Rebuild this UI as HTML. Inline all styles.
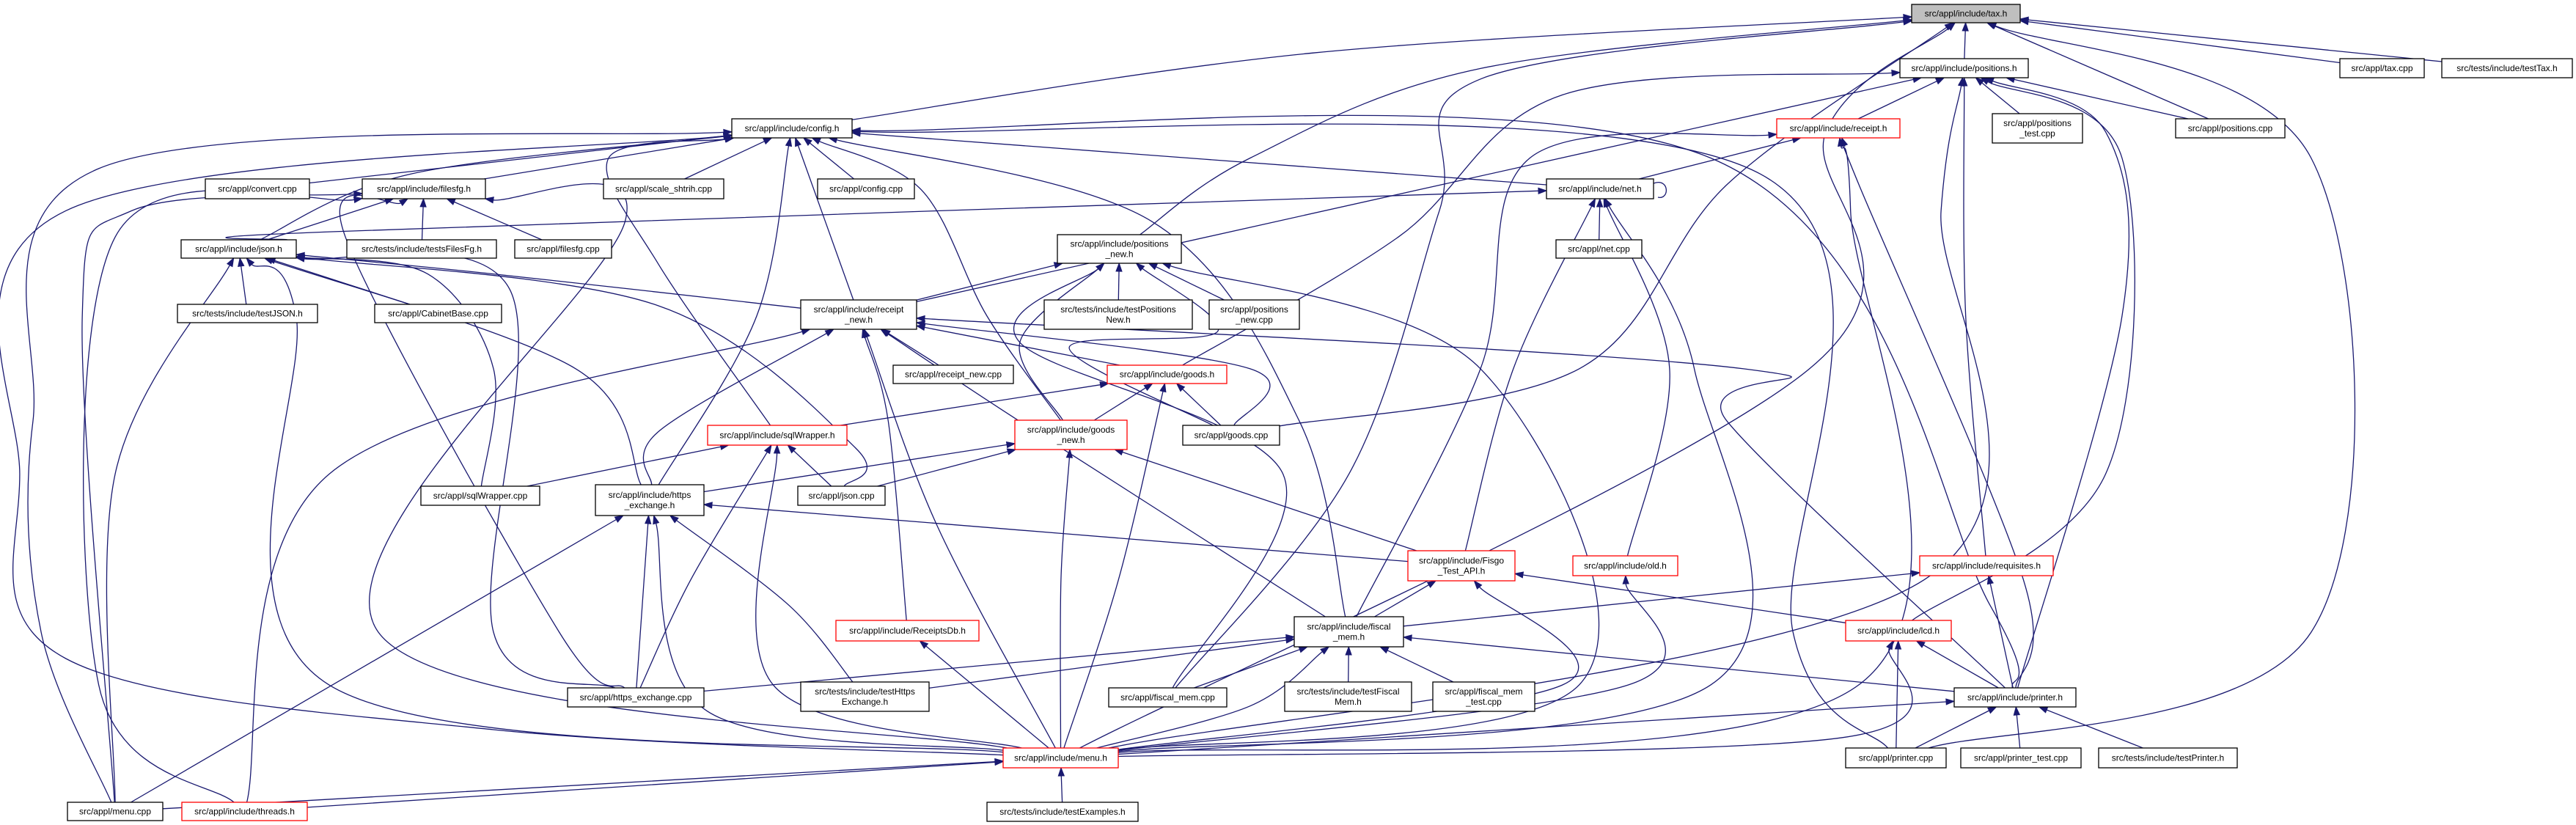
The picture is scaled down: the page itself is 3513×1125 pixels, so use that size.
<!DOCTYPE html>
<html><head><meta charset="utf-8"><style>
html,body{margin:0;padding:0;background:#fff;}
svg{display:block;}
text{font-family:"Liberation Sans",sans-serif;font-size:12px;fill:#000;}
</style></head><body>
<svg id="g" width="3513" height="1125" viewBox="0 0 3513 1125" xmlns="http://www.w3.org/2000/svg">
<g id="edges"></g>
<g id="nodes"></g>
</svg>
<script>
const nodeIds = ["tax_h","positions_h","tax_cpp","testTax_h","positions_test_cpp","positions_cpp","receipt_h","config_h","convert_cpp","filesfg_h","scale_cpp","config_cpp","net_h","json_h","testsFilesFg_h","filesfg_cpp","positions_new_h","net_cpp","testJSON_h","CabinetBase_cpp","receipt_new_h","testPositionsNew_h","positions_new_cpp","receipt_new_cpp","goods_h","sqlWrapper_h","goods_new_h","goods_cpp","sqlWrapper_cpp","https_exchange_h","json_cpp","FisgoTest_API_h","old_h","requisites_h","ReceiptsDb_h","fiscal_mem_h","lcd_h","https_exchange_cpp","testHttpsExchange_h","fiscal_mem_cpp","testFiscalMem_h","fiscal_mem_test_cpp","printer_h","menu_h","printer_cpp","printer_test_cpp","testPrinter_h","menu_cpp","threads_h","testExamples_h"];
const nodeBoxes = [
[2607,6,2755,31],[2591,80,2766,106],[3191,80,3306,106],[3330,80,3508,106],[2717,155,2840,195],[2967,162,3116,188],[2423,162,2591,188],[998,162,1162,188],[280,244,422,271],[494,244,662,271],[823,244,987,271],[1115,244,1247,271],[2109,244,2255,271],[247,327,404,352],[473,327,677,352],[702,327,834,352],[1442,320,1611,359],[2122,327,2239,352],[242,415,433,440],[511,415,684,440],[1092,409,1250,449],[1424,409,1626,449],[1649,409,1772,449],[1218,498,1382,523],[1510,498,1673,523],[965,580,1155,607],[1384,573,1537,613],[1613,580,1745,607],[574,663,736,689],[812,661,960,703],[1088,663,1207,689],[1920,751,2066,792],[2145,758,2288,785],[2618,758,2800,785],[1140,846,1335,874],[1765,841,1914,882],[2517,846,2661,874],[774,938,960,964],[1092,930,1267,970],[1512,938,1673,964],[1752,930,1925,970],[1954,930,2093,970],[2665,938,2831,964],[1368,1020,1525,1047],[2517,1020,2654,1047],[2674,1020,2838,1047],[2862,1020,3051,1047],[92,1094,222,1119],[248,1094,419,1119],[1346,1094,1552,1120]];
const nodeLabels = [
["src/appl/include/tax.h"],["src/appl/include/positions.h"],["src/appl/tax.cpp"],["src/tests/include/testTax.h"],["src/appl/positions","_test.cpp"],["src/appl/positions.cpp"],["src/appl/include/receipt.h"],["src/appl/include/config.h"],["src/appl/convert.cpp"],["src/appl/include/filesfg.h"],["src/appl/scale_shtrih.cpp"],["src/appl/config.cpp"],["src/appl/include/net.h"],["src/appl/include/json.h"],["src/tests/include/testsFilesFg.h"],["src/appl/filesfg.cpp"],["src/appl/include/positions","_new.h"],["src/appl/net.cpp"],["src/tests/include/testJSON.h"],["src/appl/CabinetBase.cpp"],["src/appl/include/receipt","_new.h"],["src/tests/include/testPositions","New.h"],["src/appl/positions","_new.cpp"],["src/appl/receipt_new.cpp"],["src/appl/include/goods.h"],["src/appl/include/sqlWrapper.h"],["src/appl/include/goods","_new.h"],["src/appl/goods.cpp"],["src/appl/sqlWrapper.cpp"],["src/appl/include/https","_exchange.h"],["src/appl/json.cpp"],["src/appl/include/Fisgo","_Test_API.h"],["src/appl/include/old.h"],["src/appl/include/requisites.h"],["src/appl/include/ReceiptsDb.h"],["src/appl/include/fiscal","_mem.h"],["src/appl/include/lcd.h"],["src/appl/https_exchange.cpp"],["src/tests/include/testHttps","Exchange.h"],["src/appl/fiscal_mem.cpp"],["src/tests/include/testFiscal","Mem.h"],["src/appl/fiscal_mem","_test.cpp"],["src/appl/include/printer.h"],["src/appl/include/menu.h"],["src/appl/printer.cpp"],["src/appl/printer_test.cpp"],["src/tests/include/testPrinter.h"],["src/appl/menu.cpp"],["src/appl/include/threads.h"],["src/tests/include/testExamples.h"]];
const nodeKinds = [2,0,0,0,0,0,1,0,0,0,0,0,0,0,0,0,0,0,0,0,0,0,0,0,1,1,1,0,0,0,0,1,1,1,1,0,1,0,0,0,0,0,0,1,0,0,0,0,1,0];
const edgeList = [
["positions_h","tax_h",[]],["tax_cpp","tax_h",[]],["testTax_h","tax_h",[]],["positions_cpp","tax_h",[]],
["config_h","tax_h",[[800,100]]],["positions_new_h","tax_h",[[760,300],[900,130]]],
["fiscal_mem_cpp","tax_h",[[820,900],[875,400],[900,150]]],["goods_cpp","tax_h",[[960,700],[1050,350]]],
["menu_h","tax_h",[[1100,700],[1110,250]]],["printer_cpp","tax_h",[[1405,1200],[1405,300]]],
["receipt_h","positions_h",[]],["positions_test_cpp","positions_h",[]],["positions_cpp","positions_h",[]],
["requisites_h","positions_h",[[1195,600]]],["printer_h","positions_h",[[1290,600],[1280,250]]],
["lcd_h","positions_h",[[1280,900],[1290,300]]],["menu_h","positions_h",[[1170,1100],[1180,400]]],
["receipt_new_h","positions_h",[]],["goods_h","positions_h",[[850,450],[950,180]]],
["convert_cpp","config_h",[]],["filesfg_h","config_h",[]],["scale_cpp","config_h",[]],["config_cpp","config_h",[]],
["json_h","config_h",[[250,330]]],["net_h","config_h",[]],["receipt_new_h","config_h",[]],
["https_exchange_h","config_h",[[460,600]]],["sqlWrapper_h","config_h",[[400,500],[370,300]]],
["menu_cpp","config_h",[[25,1200],[20,800],[60,320]]],["menu_h","config_h",[[300,1385],[40,1250],[12,900],[40,400]]],
["fiscal_mem_h","config_h",[[790,800],[700,420]]],["printer_cpp","config_h",[[1090,1200],[1070,330]]],
["printer_h","config_h",[[1210,1150],[1040,300]]],["goods_new_h","config_h",[[600,600],[560,360]]],
["net_h","receipt_h",[]],["fiscal_mem_h","receipt_h",[[900,700],[930,300]]],
["menu_h","receipt_h",[[1130,1300],[1125,400]]],["printer_h","receipt_h",[[1230,1100],[1130,350]]],
["json_h","net_h",[[200,440]]],["net_cpp","net_h",[]],["FisgoTest_API_h","net_h",[[920,700]]],
["old_h","net_h",[[1015,700]]],["menu_h","net_h",[[1040,1300],[1030,700]]],
["json_h","filesfg_h",[]],["testsFilesFg_h","filesfg_h",[]],["filesfg_cpp","filesfg_h",[]],
["menu_cpp","filesfg_h",[[50,600],[80,400]]],["threads_h","filesfg_h",[[60,1300],[70,450]]],
["https_exchange_cpp","filesfg_h",[[340,1200],[210,450]]],["menu_h","filesfg_h",[[230,1200],[380,420]]],
["testJSON_h","json_h",[]],["CabinetBase_cpp","json_h",[]],["receipt_new_h","json_h",[[300,520]]],
["menu_cpp","json_h",[[70,900]]],["menu_h","json_h",[[200,1300],[180,600]]],
["https_exchange_h","json_h",[[350,700]]],["https_exchange_cpp","json_h",[[300,1200],[310,550]]],
["json_cpp","json_h",[[520,850],[400,580]]],["sqlWrapper_cpp","json_h",[[300,700],[260,520]]],
["receipt_new_h","positions_new_h",[]],["testPositionsNew_h","positions_new_h",[]],["positions_new_cpp","positions_new_h",[]],
["goods_new_h","positions_new_h",[[620,650]]],["goods_cpp","positions_new_h",[[650,660],[740,630]]],
["fiscal_mem_cpp","positions_new_h",[[780,900],[620,650]]],["menu_h","positions_new_h",[[960,1300],[900,700]]],
["receipt_new_cpp","receipt_new_h",[]],["goods_h","receipt_new_h",[]],["https_exchange_h","receipt_new_h",[[400,820]]],
["ReceiptsDb_h","receipt_new_h",[[540,800]]],["menu_h","receipt_new_h",[[570,1000]]],
["threads_h","receipt_new_h",[[200,900]]],["fiscal_mem_h","receipt_new_h",[[620,800]]],
["printer_h","receipt_new_h",[[1050,800],[1060,700]]],["goods_cpp","receipt_new_h",[[760,700]]],
["sqlWrapper_h","goods_h",[]],["goods_new_h","goods_h",[]],["goods_cpp","goods_h",[]],["menu_h","goods_h",[[680,1100]]],
["sqlWrapper_cpp","sqlWrapper_h",[]],["json_cpp","sqlWrapper_h",[]],["https_exchange_cpp","sqlWrapper_h",[[420,1100]]],
["menu_h","sqlWrapper_h",[[470,1300]]],
["https_exchange_h","goods_new_h",[]],["json_cpp","goods_new_h",[]],["FisgoTest_API_h","goods_new_h",[]],
["menu_h","goods_new_h",[[645,1100]]],
["FisgoTest_API_h","https_exchange_h",[]],["https_exchange_cpp","https_exchange_h",[]],
["testHttpsExchange_h","https_exchange_h",[[480,1150]]],["menu_h","https_exchange_h",[[430,1350]]],
["menu_cpp","https_exchange_h",[]],
["fiscal_mem_h","FisgoTest_API_h",[]],["lcd_h","FisgoTest_API_h",[]],["menu_h","FisgoTest_API_h",[[950,1300]]],
["menu_h","old_h",[[990,1300]]],["fiscal_mem_h","requisites_h",[]],["printer_h","requisites_h",[]],
["menu_h","ReceiptsDb_h",[]],
["https_exchange_cpp","fiscal_mem_h",[]],["testHttpsExchange_h","fiscal_mem_h",[]],["fiscal_mem_cpp","fiscal_mem_h",[]],
["testFiscalMem_h","fiscal_mem_h",[]],["fiscal_mem_test_cpp","fiscal_mem_h",[]],["menu_h","fiscal_mem_h",[[760,1340]]],
["printer_h","fiscal_mem_h",[]],
["printer_h","lcd_h",[]],["printer_cpp","lcd_h",[]],["menu_h","lcd_h",[[1120,1400]]],
["printer_cpp","printer_h",[]],["printer_test_cpp","printer_h",[]],["testPrinter_h","printer_h",[]],["menu_h","printer_h",[]],
["menu_cpp","menu_h",[]],["threads_h","menu_h",[]],["testExamples_h","menu_h",[]]
];
const NS="http://www.w3.org/2000/svg";
const SX=2.2433, SY=0.7184;
const eg=document.getElementById('edges'), ng=document.getElementById('nodes');
function box(id){return nodeBoxes[nodeIds.indexOf(id)];}
function clip(b,px,py){
  const cx=(b[0]+b[2])/2, cy=(b[1]+b[3])/2, dx=px-cx, dy=py-cy;
  const hw=(b[2]-b[0])/2, hh=(b[3]-b[1])/2;
  const t=Math.min(dx?hw/Math.abs(dx):1e9, dy?hh/Math.abs(dy):1e9);
  return [cx+dx*t, cy+dy*t];
}
edgeList.forEach(e=>{
  const cb=box(e[0]), pb=box(e[1]);
  const via=e[2].map(p=>[p[0]*SX,p[1]*SY]);
  const cc=[(cb[0]+cb[2])/2,(cb[1]+cb[3])/2], pc=[(pb[0]+pb[2])/2,(pb[1]+pb[3])/2];
  const first=via.length?via[0]:pc, last=via.length?via[via.length-1]:cc;
  const s=clip(cb,first[0],first[1]), tip=clip(pb,last[0],last[1]);
  const prev=via.length?via[via.length-1]:s;
  let dx=tip[0]-prev[0], dy=tip[1]-prev[1]; const L=Math.hypot(dx,dy)||1; dx/=L; dy/=L;
  const base=[tip[0]-dx*11, tip[1]-dy*11];
  const pts=[s,...via,base];
  let d='M'+pts[0][0].toFixed(1)+','+pts[0][1].toFixed(1);
  for(let i=0;i<pts.length-1;i++){
    const p0=pts[i-1]||pts[i], p1=pts[i], p2=pts[i+1], p3=pts[i+2]||p2;
    const c1=[p1[0]+(p2[0]-p0[0])/6, p1[1]+(p2[1]-p0[1])/6];
    const c2=[p2[0]-(p3[0]-p1[0])/6, p2[1]-(p3[1]-p1[1])/6];
    d+=' C'+c1.map(v=>v.toFixed(1)).join(',')+' '+c2.map(v=>v.toFixed(1)).join(',')+' '+p2.map(v=>v.toFixed(1)).join(',');
  }
  const path=document.createElementNS(NS,'path');
  path.setAttribute('d',d);path.setAttribute('fill','none');path.setAttribute('stroke','#191970');path.setAttribute('stroke-width','1.3');
  
  
  eg.appendChild(path);
  const a=document.createElementNS(NS,'polygon');
  const nx=-dy, ny=dx;
  a.setAttribute('points',[tip,[base[0]+nx*4,base[1]+ny*4],[base[0]-nx*4,base[1]-ny*4]].map(p=>p[0].toFixed(1)+','+p[1].toFixed(1)).join(' '));
  a.setAttribute('fill','#191970');a.setAttribute('stroke','#191970');
  
  
  eg.appendChild(a);
});
(function(){const b=box('net_h');const p=document.createElementNS(NS,'path');
p.setAttribute('d','M'+b[2]+','+(b[1]+6)+' C'+(b[2]+22)+','+(b[1]-2)+' '+(b[2]+22)+','+(b[3]+2)+' '+(b[2]+6)+','+(b[3]-2));
p.setAttribute('fill','none');p.setAttribute('stroke','#191970');p.setAttribute('stroke-width','1.3');


eg.appendChild(p);})();
nodeIds.forEach((id,i)=>{
  const b=nodeBoxes[i], g=document.createElementNS(NS,'g');
  
  
  const r=document.createElementNS(NS,'rect');
  r.setAttribute('x',b[0]);r.setAttribute('y',b[1]);r.setAttribute('width',b[2]-b[0]);r.setAttribute('height',b[3]-b[1]);
  r.setAttribute('fill',nodeKinds[i]===2?'#bfbfbf':'#fff');
  r.setAttribute('stroke',nodeKinds[i]===1?'#ff0000':'#000');r.setAttribute('stroke-width','1.3');
  g.appendChild(r);
  const lines=nodeLabels[i], cx=(b[0]+b[2])/2, cy=(b[1]+b[3])/2;
  lines.forEach((ln,k)=>{
    const t=document.createElementNS(NS,'text');
    t.setAttribute('x',cx);t.setAttribute('y',cy+4+(k-(lines.length-1)/2)*14);
    t.setAttribute('text-anchor','middle');t.textContent=ln;
    g.appendChild(t);
  });
  ng.appendChild(g);
});
</script>
</body></html>
